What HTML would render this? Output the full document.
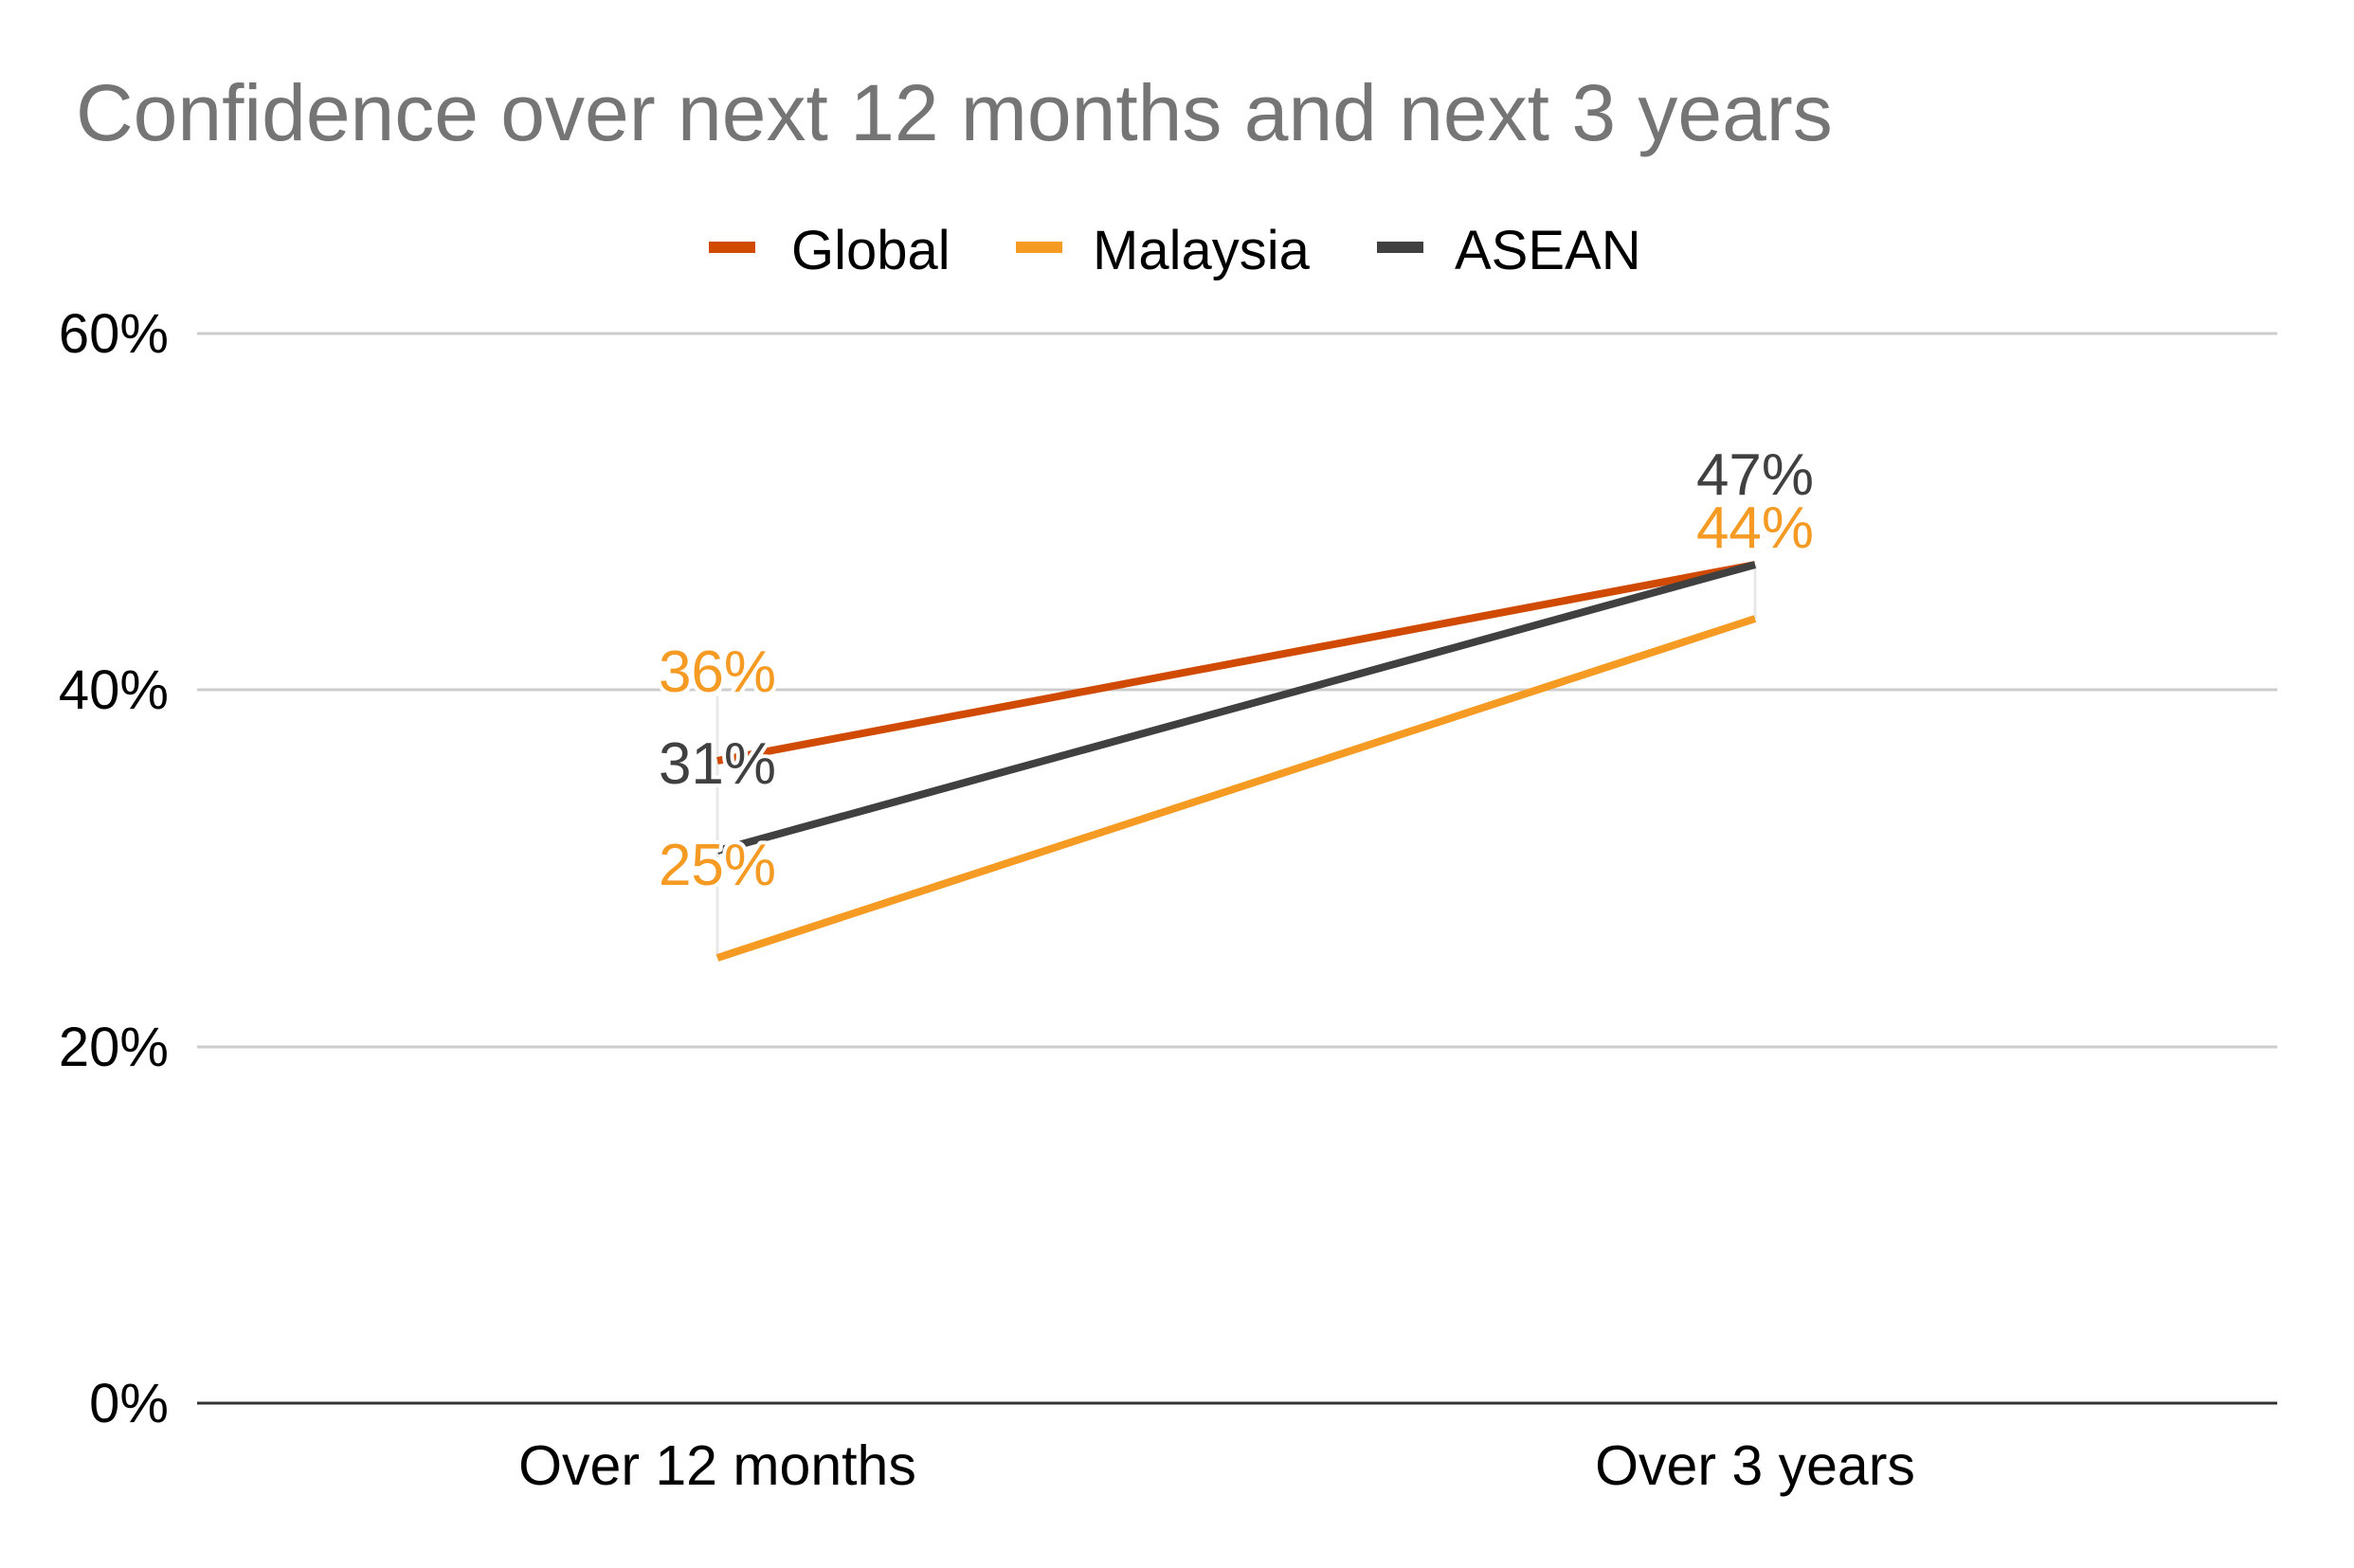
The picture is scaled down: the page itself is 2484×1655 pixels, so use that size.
<!DOCTYPE html>
<html><head><meta charset="utf-8"><style>html,body{margin:0;padding:0;background:#fff}svg{display:block}</style></head>
<body>
<svg width="2484" height="1655" viewBox="0 0 2484 1655" xmlns="http://www.w3.org/2000/svg" font-family="Liberation Sans, Arial, sans-serif">
<rect width="2484" height="1655" fill="#fff"/>
<text x="80" y="148" font-size="84" fill="#757575">Confidence over next 12 months and next 3 years</text>
<!-- legend -->
<rect x="748" y="255" width="49" height="12" fill="#D04A02"/>
<text x="835" y="284" font-size="58" fill="#000">Global</text>
<rect x="1072" y="255" width="49" height="12" fill="#F59A23"/>
<text x="1153" y="284" font-size="58" fill="#000">Malaysia</text>
<rect x="1453" y="255" width="49" height="12" fill="#404040"/>
<text x="1535" y="284" font-size="58" fill="#000">ASEAN</text>
<!-- grid -->
<g stroke="#cccccc" stroke-width="3">
<line x1="208" y1="352" x2="2403" y2="352"/>
<line x1="208" y1="728" x2="2403" y2="728"/>
<line x1="208" y1="1105" x2="2403" y2="1105"/>
</g>
<line x1="208" y1="1481" x2="2403" y2="1481" stroke="#333" stroke-width="3"/>
<g font-size="58" fill="#000" text-anchor="end">
<text x="178" y="372">60%</text>
<text x="178" y="748">40%</text>
<text x="178" y="1125">20%</text>
<text x="178" y="1501">0%</text>
</g>
<g font-size="59" fill="#000" text-anchor="middle">
<text x="757" y="1567">Over 12 months</text>
<text x="1852" y="1567">Over 3 years</text>
</g>
<!-- high-low lines -->
<line x1="757" y1="735" x2="757" y2="1011" stroke="#e8e8e8" stroke-width="3"/>
<line x1="1852" y1="596" x2="1852" y2="653" stroke="#e8e8e8" stroke-width="3"/>
<!-- series -->
<g stroke-width="8" fill="none" stroke-linecap="butt">
<line x1="757" y1="803" x2="1852" y2="596" stroke="#D04A02"/>
<line x1="757" y1="1011" x2="1852" y2="653" stroke="#F59A23"/>
<line x1="757" y1="898" x2="1852" y2="596" stroke="#404040"/>
</g>
<!-- data labels -->
<g font-size="62" text-anchor="middle" stroke="#fff" stroke-width="8" paint-order="stroke" stroke-linejoin="round">
<text x="757" y="730" fill="#F59A23">36%</text>
<text x="757" y="827" fill="#404040">31%</text>
<text x="757" y="934" fill="#F59A23">25%</text>
<text x="1852" y="522" fill="#404040">47%</text>
<text x="1852" y="578" fill="#F59A23">44%</text>
</g>
</svg>
</body></html>
